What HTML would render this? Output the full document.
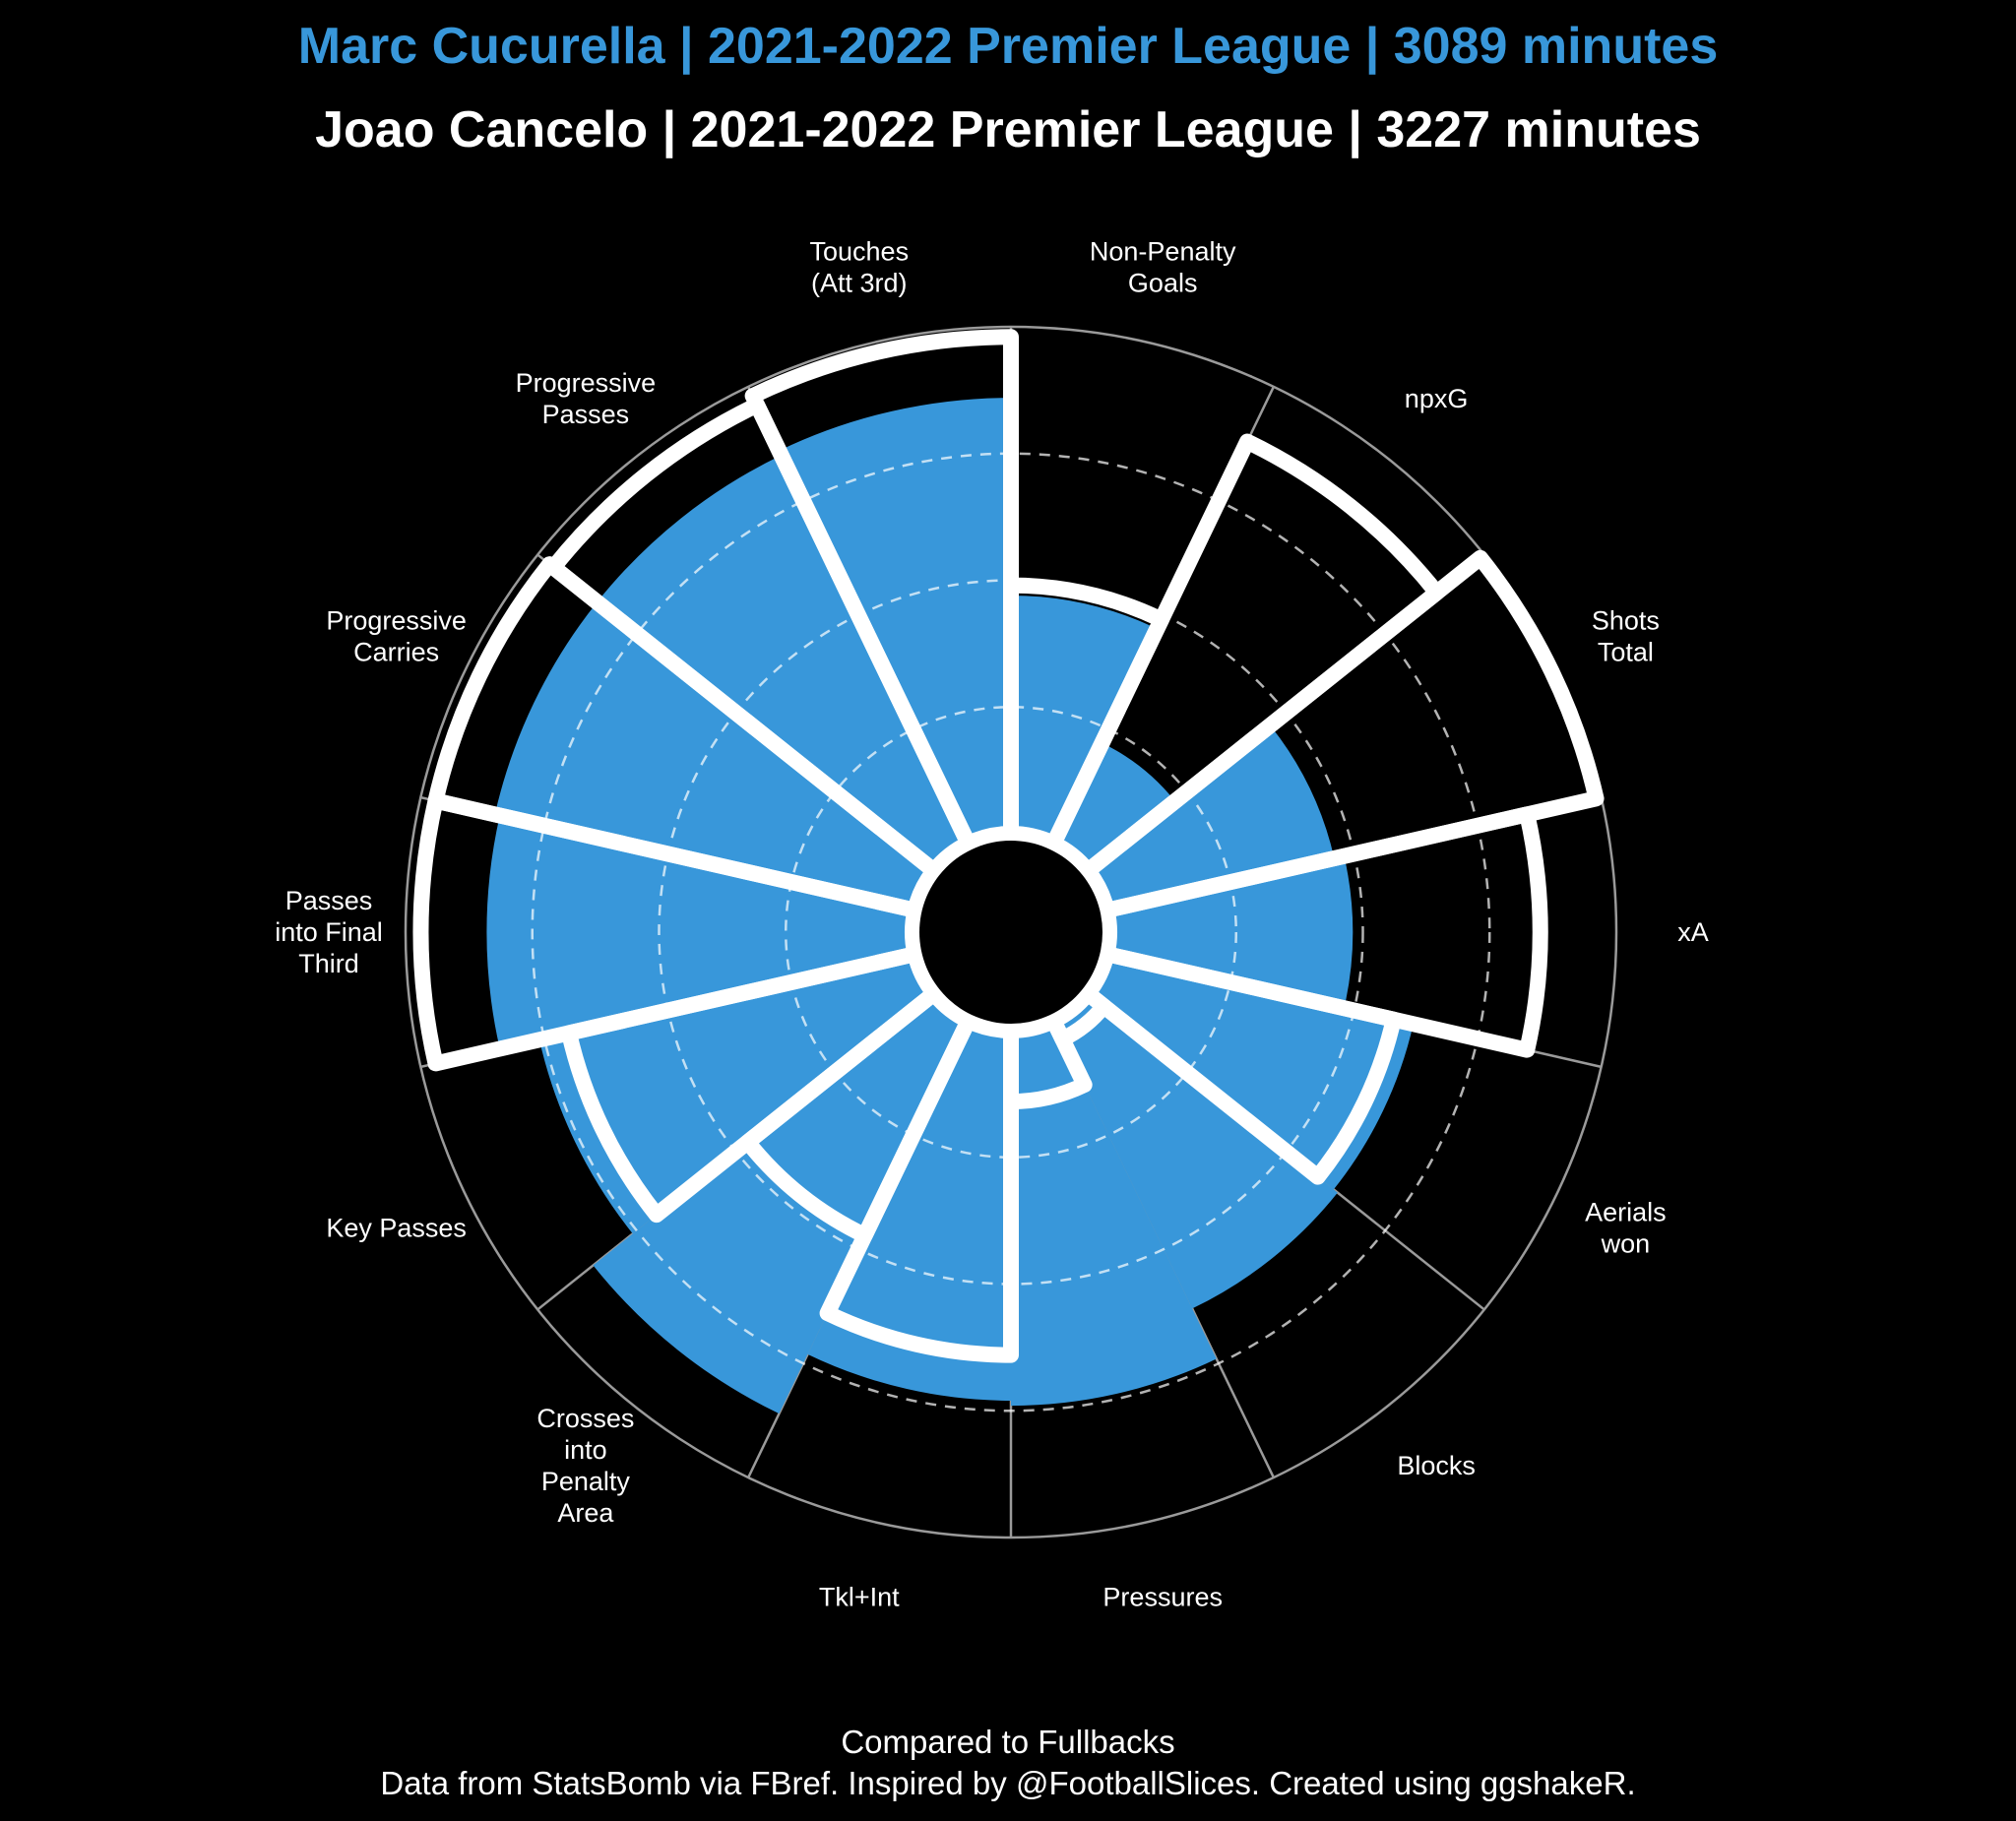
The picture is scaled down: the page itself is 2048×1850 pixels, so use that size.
<!DOCTYPE html>
<html>
<head>
<meta charset="utf-8">
<style>
  html, body { margin: 0; padding: 0; background: #000; }
  svg { display: block; }
  text { font-family: "Liberation Sans", Arial, sans-serif; }
</style>
</head>
<body>
<svg id="chart" width="2048" height="1850" viewBox="0 0 2048 1850" xmlns="http://www.w3.org/2000/svg">
  <rect x="0" y="0" width="2048" height="1850" fill="#000"/>
  <text x="1024" y="64" text-anchor="middle" font-size="52" font-weight="bold" fill="#3897DA">Marc Cucurella | 2021-2022 Premier League | 3089 minutes</text>
  <text x="1024" y="149" text-anchor="middle" font-size="52" font-weight="bold" fill="#ffffff">Joao Cancelo | 2021-2022 Premier League | 3227 minutes</text>
  <g id="grid"></g>
  <g id="blueBars"></g>
  <g id="dashes"></g>
  <g id="whiteBars"></g>
  <g id="labels"></g>
  <text x="1024" y="1781" text-anchor="middle" font-size="33" fill="#ffffff">Compared to Fullbacks</text>
  <text x="1024" y="1823" text-anchor="middle" font-size="33" fill="#ffffff">Data from StatsBomb via FBref. Inspired by @FootballSlices. Created using ggshakeR.</text>
</svg>
<script>
const categories = [["Non-Penalty","Goals"],["npxG"],["Shots","Total"],["xA"],["Aerials","won"],["Blocks"],["Pressures"],["Tkl+Int"],["Crosses","into","Penalty","Area"],["Key Passes"],["Passes","into Final","Third"],["Progressive","Carries"],["Progressive","Passes"],["Touches","(Att 3rd)"]];
const cucurellaValues = [47, 22, 46, 48, 62, 63, 74, 73, 86, 76, 84, 85, 85, 86];
const canceloValues = [49, 88, 99, 85, 58, 4, 14, 64, 47, 70, 97, 97, 96, 98];
const ringTicks = [25, 50, 75];

const NS = "http://www.w3.org/2000/svg";
const cx = 1027, cy = 947, r0 = 100, rMax = 615;
const n = categories.length;
const step = 360 / n;
function rScale(v) { return r0 + (rMax - r0) * v / 100; }
function pt(r, deg) { const a = deg * Math.PI / 180; return [cx + r * Math.sin(a), cy - r * Math.cos(a)]; }
function wedge(i, r) {
  const a0 = i * step, a1 = (i + 1) * step;
  const p1 = pt(r0, a0), p2 = pt(r, a0), p3 = pt(r, a1), p4 = pt(r0, a1);
  return `M${p1[0]},${p1[1]} L${p2[0]},${p2[1]} A${r},${r} 0 0 1 ${p3[0]},${p3[1]} L${p4[0]},${p4[1]} A${r0},${r0} 0 0 0 ${p1[0]},${p1[1]} Z`;
}
function mk(tag, attrs, parent) {
  const el = document.createElementNS(NS, tag);
  for (const k in attrs) el.setAttribute(k, attrs[k]);
  parent.appendChild(el);
  return el;
}

const grid = document.getElementById('grid');
const outer = mk('circle', {cx: cx, cy: cy, r: rMax, fill: 'none', stroke: '#9a9a9a', 'stroke-width': 2.5}, grid);


for (let i = 0; i < n; i++) {
  const a = pt(r0, i * step), b = pt(rMax, i * step);
  const ln = mk('line', {x1: a[0], y1: a[1], x2: b[0], y2: b[1], stroke: '#9a9a9a', 'stroke-width': 2.5}, grid);
  
  
}

const blue = document.getElementById('blueBars');
cucurellaValues.forEach((v, i) => {
  const p = mk('path', {d: wedge(i, rScale(v)), fill: '#3897DA', stroke: 'none'}, blue);
  
  
});

const dashes = document.getElementById('dashes');
ringTicks.forEach(t => {
  const c = mk('circle', {cx: cx, cy: cy, r: rScale(t), fill: 'none', stroke: '#ffffff', 'stroke-opacity': 0.7, 'stroke-width': 2.5, 'stroke-dasharray': '11 9'}, dashes);
  
  
});

const white = document.getElementById('whiteBars');
canceloValues.forEach((v, i) => {
  const p = mk('path', {d: wedge(i, rScale(v)), fill: 'none', stroke: '#ffffff', 'stroke-width': 16, 'stroke-linejoin': 'round'}, white);
  
  
});
const hole = mk('circle', {cx: cx, cy: cy, r: 93, fill: '#000'}, white);



const labels = document.getElementById('labels');
const lh = 32;
categories.forEach((lines, i) => {
  const p = pt(693, (i + 0.5) * step);
  const t = mk('text', {x: p[0], y: p[1], 'text-anchor': 'middle', 'font-size': 27, fill: '#ffffff'}, labels);
  
  
  lines.forEach((s, j) => {
    const ts = mk('tspan', {x: p[0], y: p[1] - (lines.length - 1) * lh / 2 + j * lh + 9}, t);
    ts.textContent = s;
  });
});
</script>
</body>
</html>
